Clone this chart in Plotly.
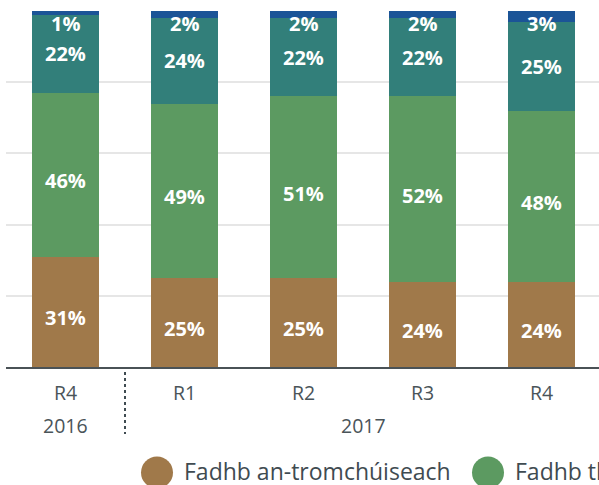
import plotly.graph_objects as go

# ---- data ----
years = ["2016", "2017", "2017", "2017", "2017"]
quarters = ["R4", "R1", "R2", "R3", "R4"]
series_names = ["Fadhb an-tromchúiseach", "Fadhb thromchúiseach", "Fadhb bheag", "Ní fadhb í"]
very_serious = [31, 25, 25, 24, 24]
serious = [46, 49, 51, 52, 48]
minor = [22, 24, 22, 22, 25]
none_ = [1, 2, 2, 2, 3]
series_values = [very_serious, serious, minor, none_]
colors = ["#A0794A", "#5C9A61", "#327F7A", "#1B5497"]

categories = [f"{y} {q}" for y, q in zip(years, quarters)]

W, H = 599, 485
L, R, T, B = 6, 0, 11, 118
x_range = [-0.5, 4.483]
plot_w = W - L - R
plot_h = H - T - B

def px_to_paper_x(px):
    return (px - L) / plot_w

def py_to_paper_y(py):
    return (H - B - py) / plot_h

label_font = dict(family="Open Sans", size=20, color="white", weight="bold")
axis_font = dict(family="Open Sans", size=19.5, color="#4A5459")

fig = go.Figure()
for name, vals, col in zip(series_names, series_values, colors):
    fig.add_trace(go.Bar(
        x=categories, y=vals, name=name,
        marker=dict(color=col, line=dict(width=0)),
        showlegend=False, hovertemplate="%{x}: %{y}%<extra>" + name + "</extra>",
    ))

annotations = []
# data labels: centred in each segment (small top segment pinned to stack top)
label_shift = [-6, -6, 0, 3]
for k, cat in enumerate(categories):
    base = 0
    for i, vals in enumerate(series_values):
        v = vals[k]
        if i == len(series_values) - 1:
            annotations.append(dict(
                x=cat, y=base + v, xref="x", yref="y", yanchor="top", yshift=label_shift[i],
                text=f"{v}%", showarrow=False, font=label_font,
            ))
        else:
            annotations.append(dict(
                x=cat, y=base + v / 2, xref="x", yref="y", yanchor="middle", yshift=label_shift[i],
                text=f"{v}%", showarrow=False, font=label_font,
            ))
        base += v

# year group labels, centred under their quarters
seen = []
for y in years:
    if y not in seen:
        seen.append(y)
for y in seen:
    idx = [k for k, yy in enumerate(years) if yy == y]
    annotations.append(dict(
        x=sum(idx) / len(idx), y=py_to_paper_y(425.5), xref="x", yref="paper",
        yanchor="middle", text=y, showarrow=False, font=axis_font,
    ))

# custom legend (circles + text)
legend_px = [157, 488, 840, 1120]
shapes = []
for name, col, cx in zip(series_names, colors, legend_px):
    shapes.append(dict(
        type="circle", xref="paper", yref="paper",
        xsizemode="pixel", ysizemode="pixel",
        xanchor=px_to_paper_x(cx), yanchor=py_to_paper_y(472.5),
        x0=-16, x1=16, y0=-16, y1=16,
        fillcolor=col, line=dict(width=0),
    ))
    annotations.append(dict(
        x=px_to_paper_x(cx + 25), y=py_to_paper_y(471), xref="paper", yref="paper",
        xanchor="left", yanchor="middle", text=name, showarrow=False,
        font=dict(family="Open Sans", size=23, color="#3F4B51"),
    ))

# dotted divider between year groups
shapes.append(dict(
    type="line", xref="x", yref="paper",
    x0=0.5, x1=0.5, y0=py_to_paper_y(372), y1=py_to_paper_y(434),
    line=dict(color="#3F4B51", width=2, dash="dot"),
))

fig.update_layout(
    width=W, height=H, barmode="stack", bargap=0.435,
    margin=dict(l=L, r=R, t=T, b=B, pad=0),
    paper_bgcolor="white", plot_bgcolor="white",
    font=dict(family="Open Sans", color="#3F4B51"),
    shapes=shapes, annotations=annotations,
    xaxis=dict(
        type="category", range=x_range, automargin=False,
        tickmode="array", tickvals=categories, ticktext=quarters,
        showline=True, linecolor="#4A5256", linewidth=2,
        showgrid=False, ticks="", ticklabelstandoff=8,
        tickfont=axis_font,
    ),
    yaxis=dict(
        range=[0, 100], dtick=20, showticklabels=False, automargin=False,
        showgrid=True, gridcolor="#E6E6E6", gridwidth=2, zeroline=False,
    ),
)

fig.write_html(
    "out.html",
    config={"displayModeBar": False},
    post_script="document.body.style.margin='0';document.body.style.overflow='hidden';",
)
